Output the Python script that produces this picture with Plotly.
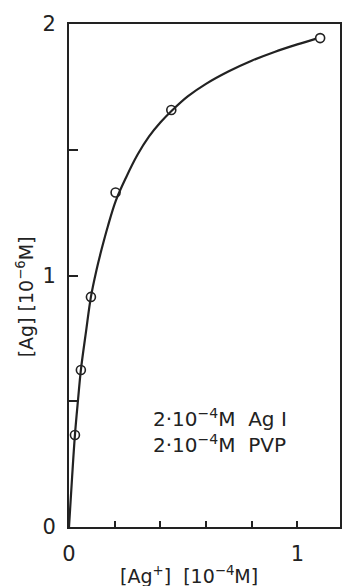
import plotly.graph_objects as go

# Measured points: [Ag+] (10^-4 M) vs [Ag] (10^-6 M)
ag_ion = [0.026, 0.052, 0.096, 0.204, 0.448, 1.10]
ag_conc = [0.366, 0.624, 0.915, 1.33, 1.658, 1.944]

# Hand-drawn fit curve through the data
curve_x = [0, 0.013, 0.026, 0.04, 0.052, 0.075, 0.096, 0.12, 0.143, 0.17, 0.204,
           0.25, 0.3, 0.35, 0.4, 0.45, 0.52, 0.6, 0.7, 0.8, 0.9, 1.0, 1.08]
curve_y = [0, 0.19, 0.366, 0.51, 0.624, 0.78, 0.915, 1.02, 1.105, 1.195, 1.295,
           1.39, 1.48, 1.552, 1.608, 1.655, 1.712, 1.762, 1.812, 1.854, 1.889, 1.919, 1.941]

x_ticks = [0, 0.2, 0.4, 0.6, 0.8, 1.0]
x_ticktext = ["0", "", "", "", "", "1"]
y_ticks = [0, 0.5, 1, 1.5, 2]
y_ticktext = ["0", "", "1", "", "2"]

ink = "#222222"
font = "DejaVu Sans"

fig = go.Figure()
fig.add_trace(go.Scatter(x=curve_x, y=curve_y, mode="lines",
                         line=dict(color=ink, width=2.2, shape="spline", smoothing=1),
                         hoverinfo="skip", showlegend=False))
fig.add_trace(go.Scatter(x=ag_ion, y=ag_conc, mode="markers",
                         marker=dict(symbol="circle-open", size=9, color=ink,
                                     line=dict(width=1.6, color=ink)),
                         showlegend=False))

fig.update_layout(
    width=343, height=586,
    margin=dict(l=69, r=1, t=24, b=59),
    paper_bgcolor="white", plot_bgcolor="white",
    font=dict(family=font, size=20, color=ink),
    xaxis=dict(range=[0, 273 / 230], tickvals=x_ticks, ticktext=x_ticktext,
               ticks="inside", ticklen=6, tickwidth=1.5, tickcolor=ink,
               showline=True, linecolor=ink, linewidth=2, mirror=True,
               showgrid=False, zeroline=False, ticklabelstandoff=7,
               tickfont=dict(family=font, size=21, color=ink)),
    yaxis=dict(range=[0, 2], tickvals=y_ticks, ticktext=y_ticktext,
               ticks="inside", ticklen=9, tickwidth=1.5, tickcolor=ink,
               showline=True, linecolor=ink, linewidth=2, mirror=True,
               showgrid=False, zeroline=False, ticklabelstandoff=7,
               tickfont=dict(family=font, size=21, color=ink)),
)

# Axis titles
fig.add_annotation(text="[Ag<sup>+</sup>]  [10<sup>−4</sup>M]", xref="paper", yref="paper",
                   x=(190 - 69) / 273, y=-(575 - 527) / 503, xanchor="center", yanchor="middle",
                   showarrow=False, font=dict(family=font, size=19, color=ink))
fig.add_annotation(text="[Ag] [10<sup>−6</sup>M]", xref="paper", yref="paper",
                   x=-(69 - 25) / 273, y=(527 - 297) / 503, xanchor="center", yanchor="middle",
                   textangle=-90, showarrow=False, font=dict(family=font, size=19, color=ink))

# Composition note
fig.add_annotation(text="2·10<sup>−4</sup>M  Ag I<br>2·10<sup>−4</sup>M  PVP", xref="paper", yref="paper",
                   x=(152 - 69) / 273, y=(527 - 431) / 503, xanchor="left", yanchor="middle",
                   align="left", showarrow=False, font=dict(family=font, size=20, color=ink))

fig.write_html("out.html")
